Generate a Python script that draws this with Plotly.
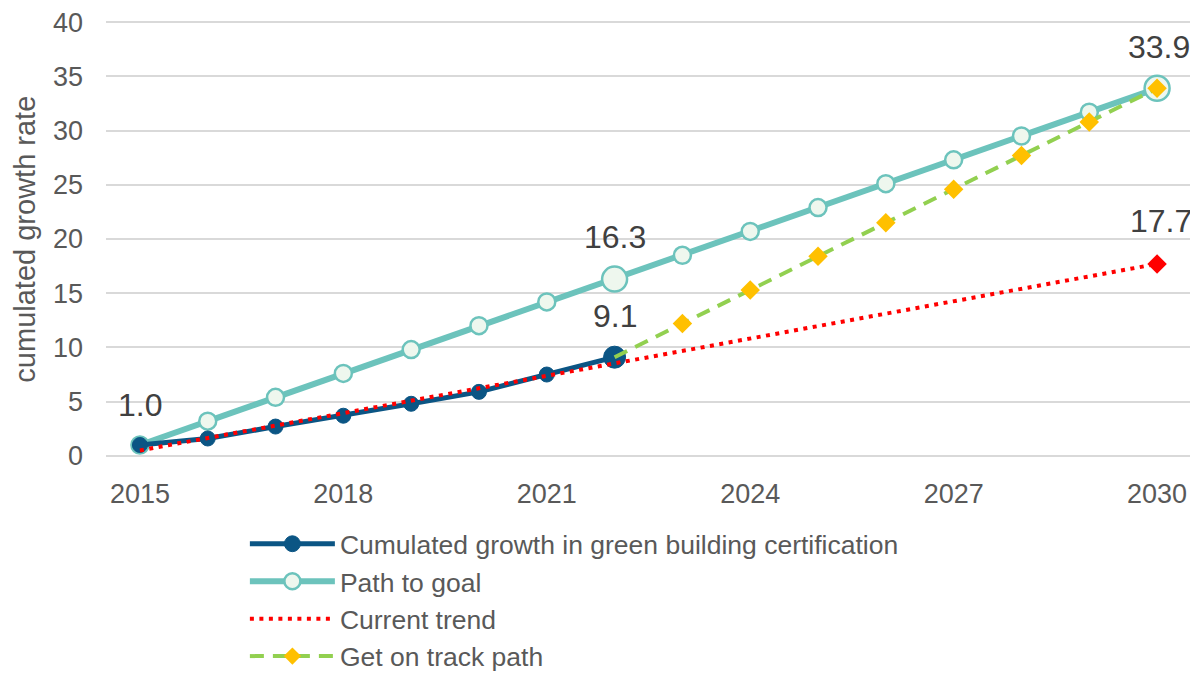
import plotly.graph_objects as go

years_actual = [2015, 2016, 2017, 2018, 2019, 2020, 2021, 2022]
actual = [1.0, 1.6, 2.7, 3.7, 4.8, 5.9, 7.5, 9.1]

years_goal = list(range(2015, 2031))
goal = [1.0, 3.2, 5.4, 7.6, 9.8, 12.0, 14.2, 16.3, 18.5, 20.7, 22.9, 25.1, 27.3, 29.5, 31.7, 33.9]

years_trend = [2015, 2030]
trend = [0.5, 17.7]

years_track = list(range(2022, 2031))
track = [9.1, 12.2, 15.3, 18.4, 21.5, 24.6, 27.7, 30.8, 33.9]

x_ticks = [2015, 2018, 2021, 2024, 2027, 2030]
y_ticks = [0, 5, 10, 15, 20, 25, 30, 35, 40]

# data labels: (x, y, text)
label_points = [(2015, goal[0], "1.0"), (2022, goal[7], "16.3"), (2022, actual[-1], "9.1"),
                (2030, goal[-1], "33.9"), (2030, trend[-1], "17.7")]
# label offsets in pixels (style)
label_offsets = [(0, 40), (0, 42), (0, 41), (2, 41), (4, 43)]

TXT = "#595959"
FONT = "Liberation Sans, Arial, sans-serif"

fig = go.Figure()

fig.add_trace(go.Scatter(
    x=years_goal, y=goal, name="Path to goal", mode="lines+markers",
    line=dict(color="#6CC3BC", width=6),
    marker=dict(size=[17 if y not in (2022, 2030) else 25 for y in years_goal],
                color="#EEF7EE", opacity=1, line=dict(color="#6CC3BC", width=2.5)),
    legendrank=2,
))
fig.add_trace(go.Scatter(
    x=years_actual, y=actual, name="Cumulated growth in green building certification",
    mode="lines+markers",
    line=dict(color="#0B5584", width=5),
    marker=dict(size=[15] * (len(years_actual) - 1) + [22], color="#0B5584", opacity=1,
                line=dict(color="#0B5584", width=1)),
    legendrank=1,
))
fig.add_trace(go.Scatter(
    x=years_trend, y=trend, name="Current trend", mode="lines",
    line=dict(color="#FF0000", width=4, dash="4px,5.5px"),
    legendrank=3,
))
fig.add_trace(go.Scatter(
    x=years_trend[-1:], y=trend[-1:], name="Current trend", mode="markers", showlegend=False,
    marker=dict(symbol="diamond", size=15, color="#FF0000", opacity=1, line=dict(width=0)),
))
fig.add_trace(go.Scatter(
    x=years_track, y=track, name="Get on track path", mode="lines+markers",
    line=dict(color="#92D050", width=4, dash="14px,9px"),
    marker=dict(symbol="diamond", size=[0] + [15] * (len(years_track) - 1), color="#FFC000",
                opacity=1, line=dict(width=0)),
    legendrank=4,
))

for (x, y, t), (dx, dy) in zip(label_points, label_offsets):
    fig.add_annotation(x=x, y=y, text=t, showarrow=False, xshift=dx, yshift=dy,
                       font=dict(size=32, color="#404040", family=FONT))

fig.add_annotation(xref="paper", yref="paper", x=-0.075, y=0.5, text="cumulated growth rate",
                   textangle=-90, showarrow=False, xanchor="center", yanchor="middle",
                   font=dict(size=29, color=TXT, family=FONT))

# page body has an 8px default margin, so the figure is sized to fit the window
fig.update_layout(
    width=1190, height=667,
    paper_bgcolor="white", plot_bgcolor="white",
    margin=dict(l=98, r=7, t=12, b=217, autoexpand=False),
    font=dict(family=FONT, color=TXT, size=27),
    showlegend=True,
    legend=dict(x=0.128, y=-0.1416, xanchor="left", yanchor="top",
                font=dict(size=26.5, color=TXT), tracegroupgap=0,
                itemwidth=85, bgcolor="rgba(0,0,0,0)"),
    xaxis=dict(range=[2014.5, 2030.5], tickvals=x_ticks, ticktext=[str(v) for v in x_ticks],
               showgrid=False, zeroline=False, showline=False, ticks="", automargin=False,
               ticklabelstandoff=17, ticklabeloverflow="allow",
               tickfont=dict(size=27, color=TXT)),
    yaxis=dict(range=[-0.2, 40.2], tickvals=y_ticks, showgrid=True, gridcolor="#D9D9D9",
               gridwidth=2, zeroline=False, showline=False, ticks="", automargin=False,
               ticklabelstandoff=22, ticklabeloverflow="allow",
               tickfont=dict(size=27, color=TXT)),
)

fig.write_html("out.html")
